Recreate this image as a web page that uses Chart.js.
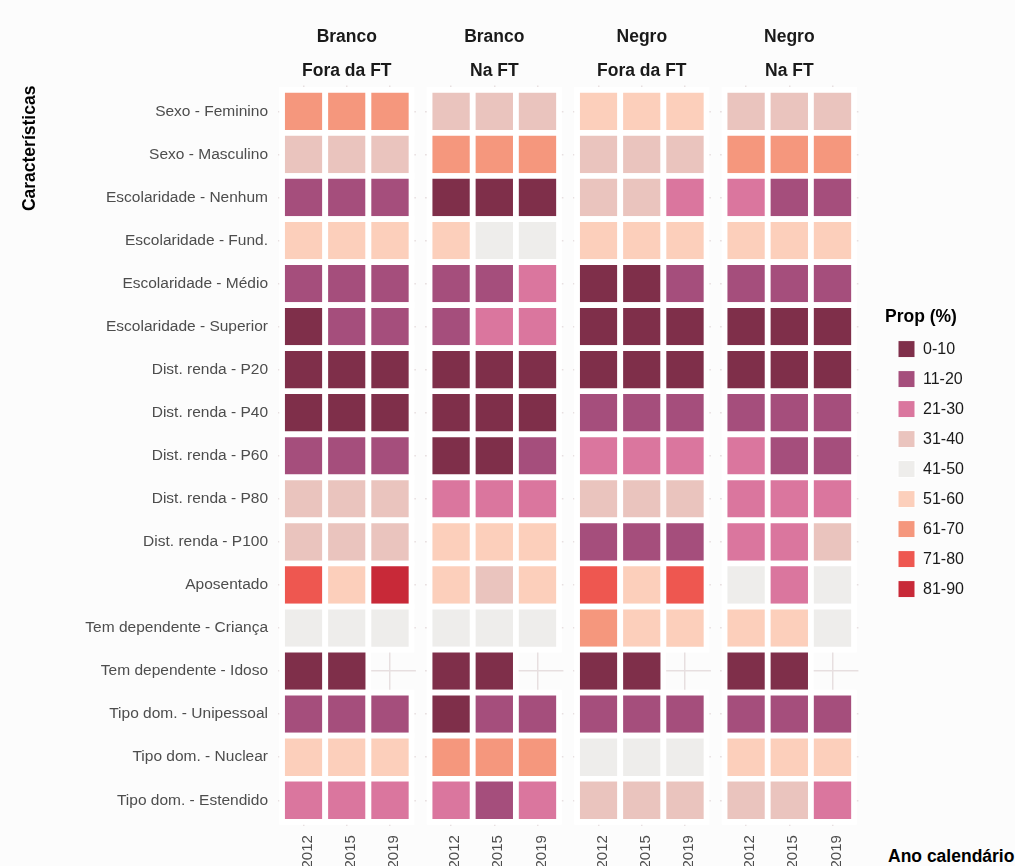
<!DOCTYPE html>
<html>
<head>
<meta charset="utf-8">
<title>Características por ano calendário</title>
<script src="https://cdn.jsdelivr.net/npm/chart.js@4.4.1/dist/chart.umd.min.js"></script>
<style>
  html, body { margin: 0; padding: 0; background: #fcfcfc; }
  body { width: 1015px; height: 866px; position: relative; overflow: hidden; font-family: "Liberation Sans", Arial, sans-serif; }
  .box { position: absolute; }
  #x-title { position: absolute; left: 888px; top: 846px; line-height: 21px; font-weight: bold; font-size: 17.5px; color: #000; white-space: nowrap; }
</style>
</head>
<body>
<div class="box" id="wrap-0"><canvas id="chart-0"></canvas></div>
<div class="box" id="wrap-1"><canvas id="chart-1"></canvas></div>
<div class="box" id="wrap-2"><canvas id="chart-2"></canvas></div>
<div class="box" id="wrap-3"><canvas id="chart-3"></canvas></div>
<div class="box" id="wrap-legend" style="left:885px;top:290px;width:130px;height:330px"><canvas id="chart-legend"></canvas></div>
<div id="x-title">Ano calendário</div>
<script>
const years = ['2012', '2015', '2019']

const rows = [
    'Sexo - Feminino',
    'Sexo - Masculino',
    'Escolaridade - Nenhum',
    'Escolaridade - Fund.',
    'Escolaridade - Médio',
    'Escolaridade - Superior',
    'Dist. renda - P20',
    'Dist. renda - P40',
    'Dist. renda - P60',
    'Dist. renda - P80',
    'Dist. renda - P100',
    'Aposentado',
    'Tem dependente - Criança',
    'Tem dependente - Idoso',
    'Tipo dom. - Unipessoal',
    'Tipo dom. - Nuclear',
    'Tipo dom. - Estendido'
]

const bins = ['0-10', '11-20', '21-30', '31-40', '41-50', '51-60', '61-70', '71-80', '81-90']
const binColors = ['#7f2f4a', '#a54e7c', '#da769e', '#eac4be', '#eeedeb', '#fccfbb', '#f5977d', '#ee5750', '#c82938']

const panelTitles = [['Branco', 'Fora da FT'], ['Branco', 'Na FT'], ['Negro', 'Fora da FT'], ['Negro', 'Na FT']]

// bin index (see bins) per row, columns 2012 / 2015 / 2019
const brancoFora = [
    [6, 6, 6], [3, 3, 3], [1, 1, 1], [5, 5, 5], [1, 1, 1], [0, 1, 1],
    [0, 0, 0], [0, 0, 0], [1, 1, 1], [3, 3, 3], [3, 3, 3], [7, 5, 8],
    [4, 4, 4], [0, 0, null], [1, 1, 1], [5, 5, 5], [2, 2, 2]
]
const brancoNa = [
    [3, 3, 3], [6, 6, 6], [0, 0, 0], [5, 4, 4], [1, 1, 2], [1, 2, 2],
    [0, 0, 0], [0, 0, 0], [0, 0, 1], [2, 2, 2], [5, 5, 5], [5, 3, 5],
    [4, 4, 4], [0, 0, null], [0, 1, 1], [6, 6, 6], [2, 1, 2]
]
const negroFora = [
    [5, 5, 5], [3, 3, 3], [3, 3, 2], [5, 5, 5], [0, 0, 1], [0, 0, 0],
    [0, 0, 0], [1, 1, 1], [2, 2, 2], [3, 3, 3], [1, 1, 1], [7, 5, 7],
    [6, 5, 5], [0, 0, null], [1, 1, 1], [4, 4, 4], [3, 3, 3]
]
const negroNa = [
    [3, 3, 3], [6, 6, 6], [2, 1, 1], [5, 5, 5], [1, 1, 1], [0, 0, 0],
    [0, 0, 0], [1, 1, 1], [2, 1, 1], [2, 2, 2], [2, 2, 3], [4, 2, 4],
    [5, 5, 4], [0, 0, null], [1, 1, 1], [5, 5, 5], [3, 3, 2]
]

const panels = [brancoFora, brancoNa, negroFora, negroNa]

// layout of the facets (px); discrete axes expanded by 0.6 like ggplot
const H = 866
const EXPAND = 0.6
const AREA_LEFT = 277.7, AREA_STEP = 147.5, AREA_W = 138.2
const AREA_TOP = 85.6, AREA_BOTTOM = 826.1
const wrapLeft = [0, 420, 567, 714]
const wrapWidth = [420, 147, 147, 148]
const gridColor = '#e7dfe0'
const textColor = '#4d4d4d'

Chart.defaults.font.family = '"Liberation Sans", Arial, sans-serif'

// first row on top: row i sits at y = last - i
const lastRow = rows.length - 1

function toPoints(values) {
    const pts = []
    values.forEach((row, i) => {
        row.forEach((v, j) => {
            if (v !== null) pts.push({ x: j, y: lastRow - i, bin: v })
        })
    })
    return pts
}

function cellRadius(ctx) {
    const area = ctx.chart.chartArea
    if (!area) return 0
    const side = (area.bottom - area.top) / (lastRow + 2 * EXPAND)
    return side / (2 * Math.SQRT1_2)
}

const charts = panels.map((values, k) => {
    const wrap = document.getElementById('wrap-' + k)
    wrap.style.left = wrapLeft[k] + 'px'
    wrap.style.top = '0px'
    wrap.style.width = wrapWidth[k] + 'px'
    wrap.style.height = H + 'px'

    const yWidth = k === 0 ? AREA_LEFT : 0
    const areaLeft = AREA_LEFT + AREA_STEP * k
    const padLeft = areaLeft - wrapLeft[k] - yWidth
    const padRight = wrapLeft[k] + wrapWidth[k] - (areaLeft + AREA_W)

    return new Chart(document.getElementById('chart-' + k), {
        type: 'scatter',
        data: {
            datasets: [{
                data: toPoints(values),
                pointStyle: 'rect',
                pointRadius: cellRadius,
                backgroundColor: ctx => binColors[ctx.raw.bin],
                borderColor: '#ffffff',
                borderWidth: 5.7,
                clip: false
            }]
        },
        options: {
            responsive: true,
            maintainAspectRatio: false,
            animation: false,
            events: [],
            layout: { padding: { left: padLeft, right: padRight, top: 0, bottom: 0 } },
            scales: {
                x: {
                    type: 'linear',
                    min: -EXPAND,
                    max: years.length - 1 + EXPAND,
                    afterBuildTicks: s => { s.ticks = years.map((y, i) => ({ value: i })) },
                    grid: { color: gridColor, lineWidth: 1.5, drawTicks: false },
                    border: { display: false },
                    ticks: {
                        callback: v => years[v],
                        color: textColor,
                        font: { size: 15 },
                        minRotation: 90,
                        maxRotation: 90,
                        padding: 9,
                        labelOffset: 4,
                        autoSkip: false
                    },
                    afterFit: s => { s.height = H - AREA_BOTTOM }
                },
                y: {
                    type: 'linear',
                    min: -EXPAND,
                    max: lastRow + EXPAND,
                    afterBuildTicks: s => { s.ticks = rows.map((r, i) => ({ value: i })) },
                    grid: { color: gridColor, lineWidth: 1.5, drawTicks: false },
                    border: { display: false },
                    ticks: {
                        display: k === 0,
                        callback: v => rows[lastRow - v],
                        color: textColor,
                        font: { size: 15.5 },
                        padding: 9.7,
                        autoSkip: false
                    },
                    title: {
                        display: k === 0,
                        text: 'Características',
                        align: 'end',
                        color: '#000',
                        font: { size: 17.5, weight: 'bold' },
                        padding: { top: 19.5, bottom: 0 }
                    },
                    afterFit: s => { s.width = yWidth }
                }
            },
            plugins: {
                legend: { display: false },
                tooltip: { enabled: false },
                title: {
                    display: true,
                    text: panelTitles[k],
                    fullSize: false,
                    color: '#1a1a1a',
                    font: { size: 17.5, weight: 'bold', lineHeight: 1.943 },
                    padding: { top: 19.75, bottom: AREA_TOP - 19.75 - 2 * 17.5 * 1.943 }
                }
            }
        }
    })
})

const chart_legend = new Chart(document.getElementById('chart-legend'), {
    type: 'scatter',
    data: {
        datasets: bins.map((b, i) => ({
            label: b,
            data: [],
            backgroundColor: binColors[i],
            borderColor: '#ffffff',
            borderWidth: 1
        }))
    },
    options: {
        responsive: true,
        maintainAspectRatio: false,
        animation: false,
        events: [],
        scales: { x: { display: false }, y: { display: false } },
        plugins: {
            tooltip: { enabled: false },
            legend: {
                position: 'left',
                align: 'start',
                maxWidth: 130,
                title: {
                    display: true,
                    text: 'Prop (%)',
                    position: 'start',
                    color: '#000',
                    font: { size: 17.5, weight: 'bold', lineHeight: 1.12 },
                    padding: { top: 18, bottom: 0 }
                },
                labels: {
                    boxWidth: 17,
                    boxHeight: 17,
                    padding: 13,
                    color: '#1a1a1a',
                    font: { size: 16 }
                }
            }
        }
    }
})
</script>
</body>
</html>
